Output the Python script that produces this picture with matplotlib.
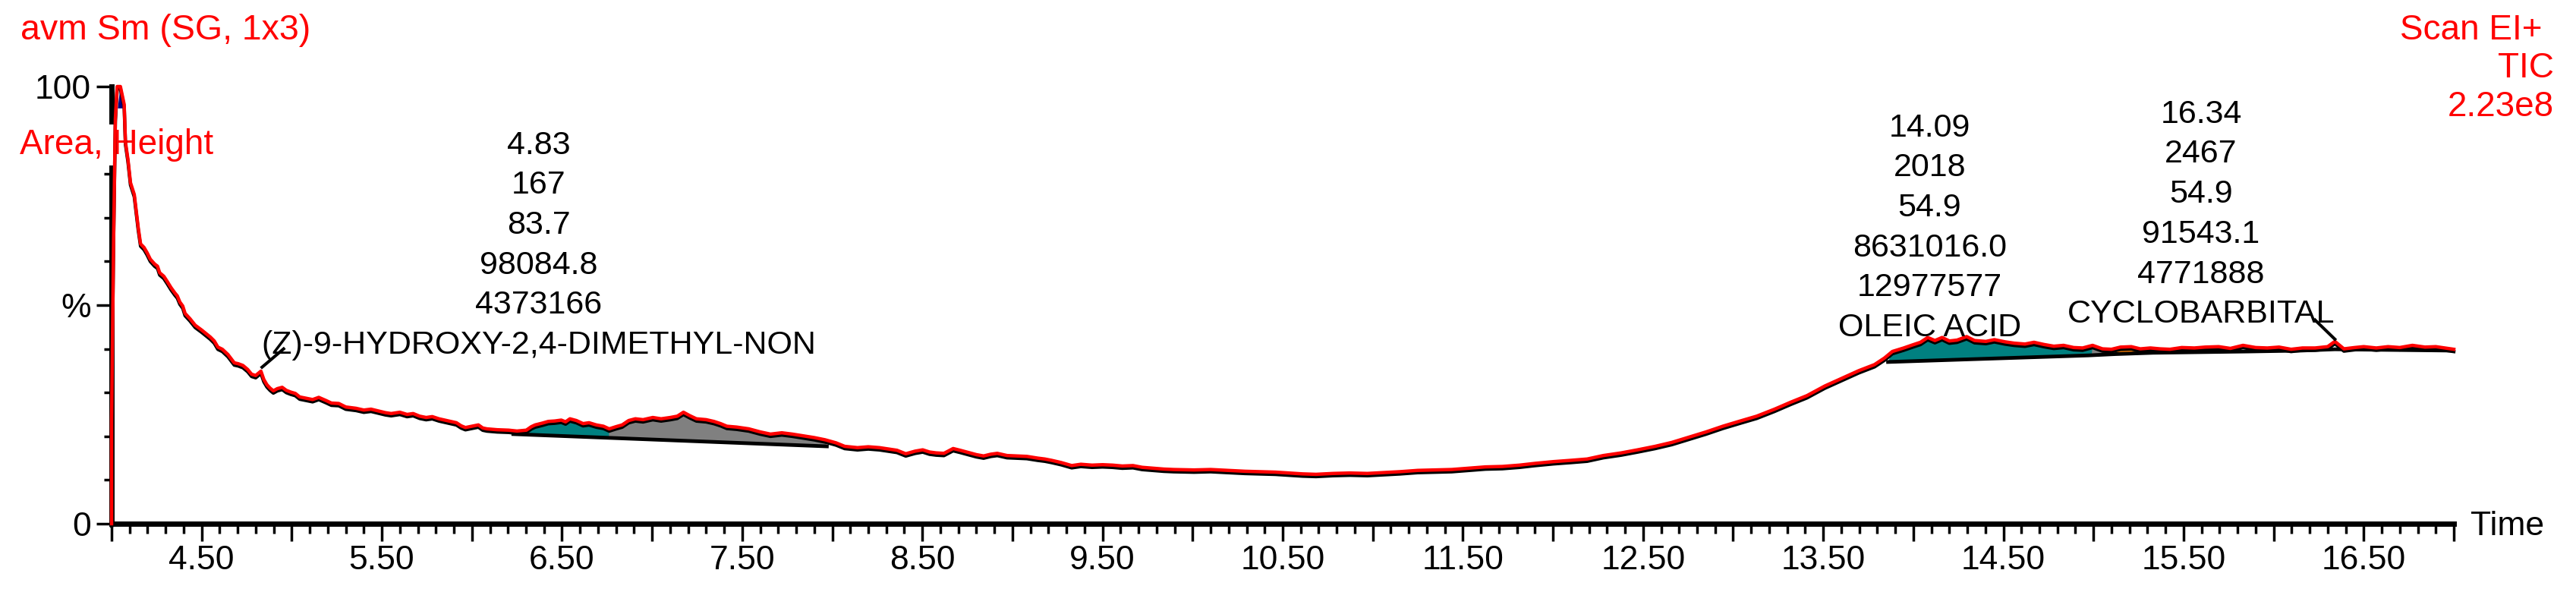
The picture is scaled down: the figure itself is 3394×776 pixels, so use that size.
import numpy as np
import matplotlib
matplotlib.use('Agg')
import matplotlib.pyplot as plt
from matplotlib import transforms
from matplotlib.ticker import FixedLocator, MultipleLocator, FuncFormatter

plt.rcParams['font.family'] = ['Liberation Sans', 'DejaVu Sans']

# TIC trace, time in minutes, intensity in % of 2.23e8
time_min = [
    4.000, 4.000, 4.011, 4.021, 4.031, 4.049, 4.070, 4.077, 4.091, 4.105,
    4.126, 4.148, 4.161, 4.180, 4.197, 4.215, 4.239, 4.255, 4.267, 4.290,
    4.309, 4.330, 4.351, 4.365, 4.379, 4.395, 4.408, 4.435, 4.464, 4.500,
    4.548, 4.570, 4.590, 4.615, 4.646, 4.681, 4.703, 4.729, 4.755, 4.777,
    4.800, 4.829, 4.845, 4.862, 4.880, 4.898, 4.920, 4.947, 4.970, 4.995,
    5.020, 5.044, 5.080, 5.116, 5.150, 5.189, 5.220, 5.261, 5.300, 5.357,
    5.400, 5.440, 5.480, 5.520, 5.552, 5.600, 5.640, 5.674, 5.710, 5.746,
    5.780, 5.817, 5.860, 5.914, 5.940, 5.964, 6.000, 6.036, 6.060, 6.083,
    6.140, 6.204, 6.250, 6.302, 6.330, 6.351, 6.390, 6.424, 6.460, 6.496,
    6.520, 6.544, 6.580, 6.617, 6.650, 6.690, 6.730, 6.762, 6.800, 6.834,
    6.870, 6.907, 6.950, 7.004, 7.050, 7.101, 7.140, 7.174, 7.210, 7.246,
    7.300, 7.343, 7.380, 7.415, 7.470, 7.537, 7.600, 7.657, 7.720, 7.778,
    7.840, 7.900, 7.960, 8.021, 8.069, 8.140, 8.200, 8.262, 8.310, 8.359,
    8.408, 8.460, 8.502, 8.540, 8.577, 8.620, 8.671, 8.710, 8.764, 8.800,
    8.840, 8.880, 8.916, 8.970, 9.029, 9.080, 9.141, 9.180, 9.217, 9.270,
    9.329, 9.380, 9.442, 9.500, 9.556, 9.610, 9.669, 9.720, 9.781, 9.840,
    9.895, 10.008, 10.100, 10.196, 10.290, 10.384, 10.460, 10.534, 10.610, 10.685,
    10.780, 10.873, 10.970, 11.061, 11.150, 11.250, 11.340, 11.438, 11.530, 11.626,
    11.720, 11.814, 11.900, 12.002, 12.100, 12.190, 12.280, 12.379, 12.470, 12.567,
    12.660, 12.755, 12.850, 12.943, 13.040, 13.131, 13.230, 13.320, 13.410, 13.509,
    13.600, 13.697, 13.785, 13.840, 13.884, 13.947, 13.996, 14.040, 14.080, 14.120,
    14.160, 14.200, 14.243, 14.296, 14.340, 14.403, 14.450, 14.510, 14.560, 14.620,
    14.670, 14.725, 14.780, 14.834, 14.890, 14.940, 14.995, 15.050, 15.100, 15.150,
    15.210, 15.260, 15.316, 15.370, 15.425, 15.490, 15.560, 15.620, 15.695, 15.760,
    15.830, 15.900, 15.965, 16.030, 16.097, 16.160, 16.230, 16.300, 16.340, 16.390,
    16.450, 16.500, 16.570, 16.635, 16.700, 16.770, 16.840, 16.900, 16.950, 17.000,
]
tic_pct = [
    0.0, 23.4, 64.7, 92.6, 100.0, 100.0, 95.9, 87.3, 83.3, 78.0,
    75.3, 67.7, 64.0, 63.2, 62.0, 60.5, 59.4, 58.9, 57.4, 56.6,
    55.4, 54.0, 52.8, 52.1, 50.7, 49.8, 48.1, 46.9, 45.4, 44.3,
    42.7, 41.8, 40.4, 39.9, 38.7, 36.8, 36.6, 36.2, 35.3, 34.2,
    33.9, 34.9, 33.0, 31.8, 31.0, 30.4, 30.9, 31.2, 30.5, 30.1,
    29.8, 29.0, 28.7, 28.4, 28.9, 28.2, 27.6, 27.5, 26.7, 26.4,
    26.0, 26.2, 25.8, 25.4, 25.2, 25.5, 25.0, 25.2, 24.6, 24.3,
    24.5, 24.0, 23.6, 23.1, 22.4, 22.0, 22.3, 22.6, 21.9, 21.7,
    21.5, 21.4, 21.2, 21.4, 22.2, 22.6, 23.0, 23.4, 23.5, 23.7,
    23.3, 24.0, 23.6, 22.9, 23.1, 22.6, 22.3, 21.7, 22.2, 22.6,
    23.6, 24.0, 23.8, 24.3, 24.0, 24.3, 24.6, 25.5, 24.7, 24.0,
    23.8, 23.4, 22.9, 22.3, 22.1, 21.7, 21.0, 20.5, 20.8, 20.5,
    20.1, 19.7, 19.2, 18.5, 17.7, 17.4, 17.6, 17.4, 17.1, 16.8,
    16.0, 16.6, 16.9, 16.4, 16.2, 16.1, 17.2, 16.8, 16.2, 15.8,
    15.5, 15.9, 16.1, 15.6, 15.5, 15.4, 15.0, 14.8, 14.5, 14.0,
    13.3, 13.6, 13.4, 13.5, 13.4, 13.2, 13.3, 12.9, 12.7, 12.5,
    12.4, 12.3, 12.4, 12.2, 12.0, 11.9, 11.8, 11.6, 11.4, 11.3,
    11.5, 11.6, 11.5, 11.7, 11.9, 12.2, 12.3, 12.4, 12.7, 13.0,
    13.1, 13.4, 13.8, 14.2, 14.5, 14.8, 15.6, 16.2, 16.9, 17.7,
    18.6, 19.8, 21.0, 22.3, 23.5, 24.6, 26.2, 27.8, 29.3, 31.5,
    33.2, 35.0, 36.4, 37.9, 39.4, 40.2, 40.9, 41.5, 42.6, 41.9,
    42.6, 41.8, 42.0, 42.8, 41.9, 41.7, 42.1, 41.6, 41.3, 41.1,
    41.5, 41.0, 40.6, 40.8, 40.3, 40.2, 40.8, 40.0, 39.9, 40.4,
    40.5, 40.0, 40.2, 40.0, 39.9, 40.3, 40.2, 40.4, 40.5, 40.1,
    40.8, 40.3, 40.2, 40.4, 39.9, 40.2, 40.2, 40.5, 41.7, 40.0,
    40.3, 40.5, 40.2, 40.5, 40.3, 40.8, 40.4, 40.5, 40.2, 39.9,
]

# integrated areas: start, end, baseline at start, baseline at end, colour
fill_start = [4.035, 6.30, 6.76, 13.86, 14.99, 15.11, 15.48, 16.02]
fill_end = [4.07, 6.77, 7.97, 15.00, 15.12, 15.33, 15.71, 16.10]
fill_base_start = [95.0, 20.4, 19.65, 37.0, 38.5, 38.8, 39.2, 39.5]
fill_base_end = [95.0, 19.65, 17.7, 38.5, 38.8, 39.1, 39.3, 39.6]
fill_colors = ['#000080', '#008080', '#808080', '#008080', '#808080',
               '#FF8000', '#000080', '#000080']

# drawn integration baselines
base1_t = [6.23, 7.97]
base1_pct = [20.5, 17.7]
base2_t = [13.86, 14.97, 15.12, 15.33, 15.86, 16.15, 16.34, 17.0]
base2_pct = [37.0, 38.5, 38.8, 39.1, 39.4, 39.6, 39.9, 39.6]

# peak labels
label_rt = [4.83, 14.09, 16.34]
label_top = [90.0, 94.0, 97.1]
label_ha = ['left', 'center', 'right']
label_lines = [
    ['4.83', '167', '83.7', '98084.8', '4373166', '(Z)-9-HYDROXY-2,4-DIMETHYL-NON'],
    ['14.09', '2018', '54.9', '8631016.0', '12977577', 'OLEIC ACID'],
    ['16.34', '2467', '54.9', '91543.1', '4771888', 'CYCLOBARBITAL'],
]
leader_t = [[4.835, 4.955], [16.34, 16.23]]
leader_pct = [[35.8, 40.0], [42.2, 46.6]]

W, H = 3394, 776
fig = plt.figure(figsize=(W / 100, H / 100), dpi=100)
ax = fig.add_axes([147 / W, 1 - 690 / H, (3233 - 147) / W, (690 - 114) / H])

t = np.array(time_min)
p = np.array(tic_pct)

# coloured peak areas
for a, b, ba, bb, c in zip(fill_start, fill_end, fill_base_start, fill_base_end, fill_colors):
    m = (t >= a) & (t <= b)
    xs = [a] + list(t[m]) + [b]
    ys = [ba] + list(p[m]) + [bb]
    ax.fill(xs, ys, color=c, lw=0, zorder=2.7)

# black shadow under the trace, then the trace
shadow = transforms.offset_copy(ax.transData, fig=fig, x=0, y=-3, units='dots')
ax.plot(t, p, color='black', lw=3.2, transform=shadow, zorder=2.8, clip_on=False)
ax.plot(base1_t, base1_pct, color='black', lw=3.5, zorder=2.8)
ax.plot(base2_t, base2_pct, color='black', lw=3.5, zorder=2.8)
ax.plot(t, p, color='#FF0000', lw=3.2, zorder=3, clip_on=False)

for lt, lp in zip(leader_t, leader_pct):
    ax.plot(lt, lp, color='black', lw=2.9, zorder=3)

for rt, top, ha, lines in zip(label_rt, label_top, label_ha, label_lines):
    ax.text(rt, top, '\n'.join(lines), ha=ha, va='top', multialignment='center',
            linespacing=1.41, fontsize=31, color='black', zorder=4)

ax.set_xlim(4.0, 17.0)
ax.set_ylim(0, 100)
for s in ['top', 'right']:
    ax.spines[s].set_visible(False)
for s in ['left', 'bottom']:
    ax.spines[s].set_linewidth(5)

ax.xaxis.set_major_locator(FixedLocator(np.arange(4.0, 17.01, 0.5)))
ax.xaxis.set_minor_locator(MultipleLocator(0.1))
ax.xaxis.set_major_formatter(FuncFormatter(
    lambda v, pos: '%.2f' % v if abs((v - 4.5) % 1.0) < 1e-6 else ''))
ax.yaxis.set_major_locator(FixedLocator([0, 50, 100]))
ax.yaxis.set_minor_locator(MultipleLocator(10))
ax.set_yticklabels(['0', '%', '100'])

ax.tick_params(axis='x', which='major', length=16.5, width=2.5, pad=3.5, labelsize=32)
ax.tick_params(axis='x', which='minor', length=9.4, width=2.5)
ax.tick_params(axis='y', which='major', length=14.4, width=2.5, pad=5, labelsize=32)
ax.tick_params(axis='y', which='minor', length=7.2, width=2.5)

def fpos(x, y):
    return x / W, 1 - y / H

red = '#FF0000'
fig.text(*fpos(27, 52), 'avm Sm (SG, 1x3)', color=red, fontsize=33.5, ha='left', va='baseline')
ax.text(*fpos(26, 203), 'Area, Height', color=red, fontsize=33, ha='left', va='baseline',
        transform=fig.transFigure, zorder=2.6,
        bbox=dict(facecolor='white', edgecolor='none', boxstyle='square,pad=0.1'))
fig.text(*fpos(3350, 52), 'Scan EI+', color=red, fontsize=33, ha='right', va='baseline')
fig.text(*fpos(3365, 102), 'TIC', color=red, fontsize=33, ha='right', va='baseline')
fig.text(*fpos(3365, 153), '2.23e8', color=red, fontsize=33, ha='right', va='baseline')
fig.text(*fpos(3255, 705), 'Time', color='black', fontsize=32, ha='left', va='baseline')

fig.savefig('out.png', dpi=100)
